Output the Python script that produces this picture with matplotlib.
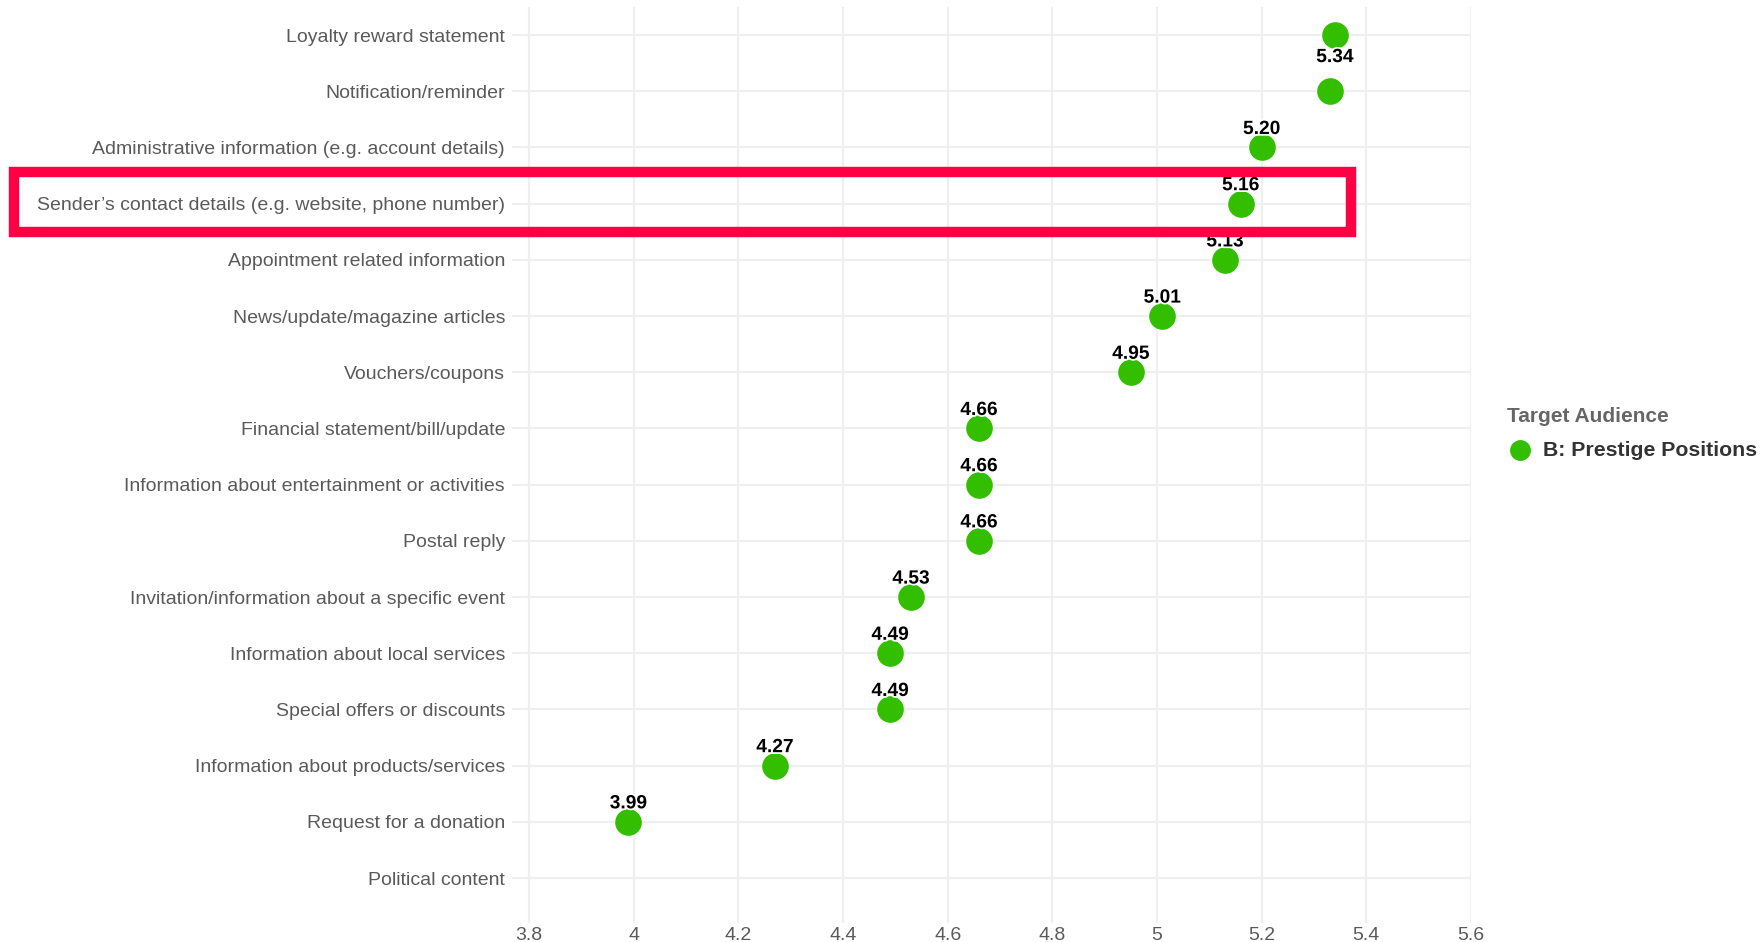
import numpy as np
import matplotlib.pyplot as plt
import matplotlib.patheffects as pe
from matplotlib.patches import Rectangle
from matplotlib.lines import Line2D

plt.rcParams['font.family'] = ['Liberation Sans', 'DejaVu Sans']

# mean scores per content type, top to bottom
categories = [
    "Loyalty reward statement",
    "Notification/reminder",
    "Administrative information (e.g. account details)",
    "Sender\u2019s contact details (e.g. website, phone number)",
    "Appointment related information",
    "News/update/magazine articles",
    "Vouchers/coupons",
    "Financial statement/bill/update",
    "Information about entertainment or activities",
    "Postal reply",
    "Invitation/information about a specific event",
    "Information about local services",
    "Special offers or discounts",
    "Information about products/services",
    "Request for a donation",
    "Political content",
]
scores = [5.34, 5.33, 5.20, 5.16, 5.13, 5.01, 4.95, 4.66, 4.66, 4.66,
          4.53, 4.49, 4.49, 4.27, 3.99, np.nan]
# which points carry a value label
show_label = [True, False, True, True, True, True, True, True, True, True,
              True, True, True, True, True, False]
highlight = "Sender\u2019s contact details (e.g. website, phone number)"
series_name = "B: Prestige Positions"
legend_title = "Target Audience"
xticks = [3.8, 4.0, 4.2, 4.4, 4.6, 4.8, 5.0, 5.2, 5.4, 5.6]

green = '#33BF00'
grid_c = '#EFEFEF'
W, H = 1765, 942

fig = plt.figure(figsize=(W/100, H/100), dpi=100)
ax = fig.add_axes([512/W, 1-923/H, (1471-512)/W, (923-7)/H])

ypos = np.arange(len(categories))
ax.set_xlim(3.7675, 5.6)
ax.set_ylim(15.8, -0.5)

for x in xticks:
    ax.axvline(x, color=grid_c, lw=1.6, zorder=0)
for y in ypos:
    ax.axhline(y, color=grid_c, lw=1.6, zorder=0)

ax.scatter(scores, ypos, s=400, color=green, edgecolors='white', linewidths=0.8, zorder=3)

halo = [pe.withStroke(linewidth=2.5, foreground='white')]
for i, (v, lab) in enumerate(zip(scores, show_label)):
    if not lab:
        continue
    # top label would leave the panel, so it sits below its point
    dy = 0.4 if i == 0 else -0.32
    ax.text(v, i + dy, f"{v:.2f}", ha='center', va='center', fontsize=13.8,
            fontweight='bold', color='black', zorder=4, path_effects=halo)

ax.set_yticks(ypos)
ax.set_yticklabels(categories, fontsize=14, color='#5A5A5A')
ax.set_xticks(xticks)
ax.set_xticklabels([f"{t:g}" for t in xticks], fontsize=14, color='#5A5A5A')
ax.tick_params(axis='y', length=0, pad=5)
ax.tick_params(axis='x', length=0, pad=3)
for s in ax.spines.values():
    s.set_visible(False)

# highlight box around the contact-details row
box = Rectangle((14/W, 1-232/H), (1351-14)/W, 60/H, transform=fig.transFigure,
                fill=False, edgecolor='#FF0044', lw=7.5, zorder=10)
fig.patches.append(box)

# legend
fig.text(1507/W, 1-416/H, legend_title, fontsize=15, fontweight='bold',
         color='#666666', ha='left', va='center')
fig.add_artist(Line2D([1520/W], [1-450/H], transform=fig.transFigure, marker='o',
                      ls='', markersize=14, markerfacecolor=green, markeredgecolor=green))
fig.text(1543/W, 1-450/H, series_name, fontsize=15.3, fontweight='bold',
         color='#333333', ha='left', va='center')

fig.savefig('out.png', dpi=100)
